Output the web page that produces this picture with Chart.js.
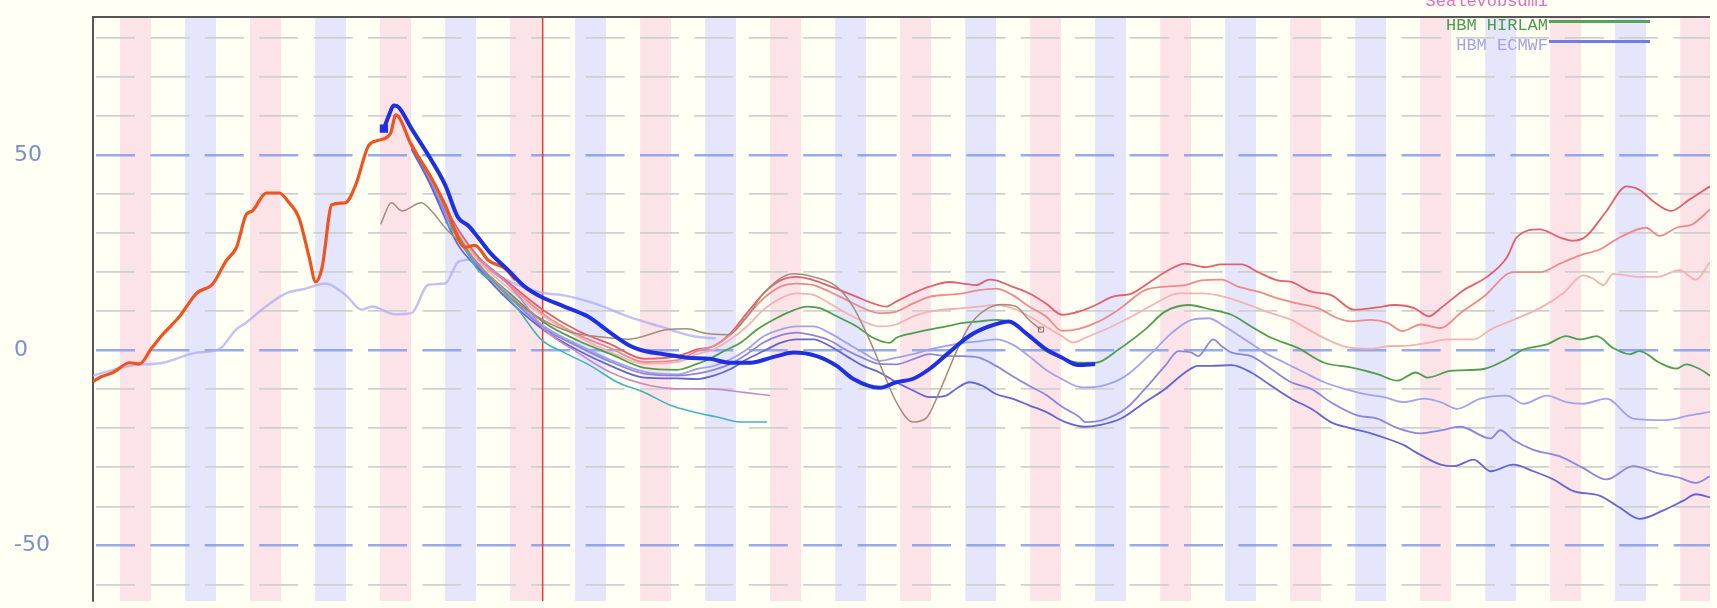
<!doctype html>
<html lang="da">
<head>
<meta charset="utf-8">
<title>Vandstand</title>
<script src="https://cdn.jsdelivr.net/npm/chart.js@4.4.1/dist/chart.umd.min.js"></script>
<style>
  body { margin: 0; background: #fffff3; overflow: hidden; }
  canvas { display: block; }
</style>
</head>
<body>
<canvas id="vandstand" width="1717" height="608"></canvas>
<script>
// hours from the first shaded band, water level in cm: [hour, level]
const observed = [[-5,-8],[-3.5,-6.8],[-1.3,-5.7],[1.8,-3.2],[3.6,-3.5],[5.8,0.5],[7.9,4.1],[11,8.7],[14.1,14.6],[17.1,17],[19.6,23],[21.5,26.4],[23.3,34.8],[24.4,35.7],[27,40.3],[29.4,40.3],[31.2,37.8],[33,34],[34.9,23.9],[36.1,17.5],[37.3,21.3],[39.1,37.3],[41.6,37.8],[43.5,42.4],[45.9,52.5],[47.7,53.8],[49.9,55.5],[50.9,60.3],[53.8,52.5],[57.5,44.1],[60,37.3],[63.7,26.4],[65.5,26.9],[68,23],[71,21],[73,18]];

const forecast = [[48.7,56.8],[49.6,60.1],[50.5,62.7],[51.4,62.3],[53.8,56.8],[56.9,50],[60,42.4],[62.4,34],[64.3,31.9],[66.1,28.9],[68.5,24.7],[71.6,20.6],[74.7,16.3],[77.7,13.7],[82,11.2],[86.3,8.7],[90.6,4.4],[94.2,1.1],[96.8,-0.2],[100.4,-1],[104.7,-1.9],[108.9,-2.2],[112.6,-3.2],[116.3,-3.2],[121.2,-1.5],[124.3,-0.6],[128.6,-1.5],[132.3,-4],[135.3,-7.3],[140.2,-9.6],[143.3,-8.2],[146.4,-7.3],[149.4,-4.8],[153,-0.6],[156.7,3.6],[160.4,6.1],[164.1,7.4],[167.2,4.4],[170.9,0.3],[173.9,-1.9],[176.9,-3.8],[180,-3.5]];

const hindcast = [[-5,-6.5],[1.8,-4],[7.9,-3.2],[14.1,-0.6],[18.3,0.3],[21.4,5.3],[23.2,7],[26.9,11.2],[30.6,14.6],[34.3,15.8],[37.9,17.1],[41.6,14.2],[44.6,10.4],[46.5,11.2],[50.8,9.2],[53.8,9.5],[56.9,16.8],[60,17.1],[62.4,22.6],[64.3,23.2],[66.1,22.2],[72.2,17.5],[78.4,14.6],[81.4,14.2],[87.6,12],[93.7,8.7],[99.7,6.1],[105.9,3.6],[110,3]];

const swing = [[48.1,32.3],[50.1,37.8],[52,35.7],[55.6,37.8],[57.5,35.7],[60,31.4],[63,27.2],[66.1,22.2],[71.6,14],[78.4,7.5],[83.6,4.5],[87.6,3.6],[93.7,2.8],[101.1,5.3],[104.7,5.5],[107.8,4.4],[112.1,4],[115.7,8.5],[118.8,14.6],[124.3,19.6],[128,18.8],[132.3,16.3],[135.3,11.2],[138.3,2.8],[140.9,-5.7],[143.3,-13.3],[146.4,-18.4],[148.8,-17.4],[151.2,-10.8],[154.3,-0.6],[156.7,6.1],[159.8,10.4],[162.9,11.7],[165.4,11.2],[167.7,7.9],[170,5.3]];

const teal = [[60,33],[62.4,28.9],[66.1,20.5],[69.2,17.1],[73.5,10.4],[77.7,2.8],[82,-0.6],[86.9,-4],[91.8,-8.2],[96.8,-10.8],[101.6,-14.1],[105.9,-15.8],[110.2,-17.1],[114.5,-18.4],[119.4,-18.4]];

const mauve = [[66,23.5],[68.5,21],[73.5,14],[78.4,5.3],[84.5,-0.6],[90.6,-5.7],[98,-9.1],[102.9,-9.9],[108.9,-9.9],[115.1,-10.8],[120,-11.6]];

const red1 = [[53.8,53],[56.9,45],[62.4,31],[66.1,24],[71.6,17.5],[78.4,10],[84.5,5],[90.6,1.5],[96.8,-2.2],[102.9,-1.5],[106.5,0.2],[109.6,1.1],[112.7,4.4],[115.7,9.5],[118.8,14.6],[121.9,17.9],[124.9,18.8],[126.8,18.4],[129.8,17.1],[132.9,15.4],[136,13.7],[139,12],[141.5,11.2],[143.3,12.5],[146.4,14.6],[149.4,16.3],[153.1,17.5],[155.6,17.1],[158,16.7],[160.5,18.1],[161.7,17.9],[164.7,16.3],[167.8,14.6],[170.9,12],[173.9,9.1],[177,9.9],[180.1,11.6],[183.1,13.7],[186.8,14.6],[190.5,17.9],[193.5,20.5],[196.6,22.2],[200.3,21.3],[203.3,22],[207,22],[210.1,20],[213.7,17.9],[216.2,17.5],[219.9,15],[223.5,14.2],[227.8,10.4],[232.1,11],[235.2,11.6],[238.9,10.8],[241.6,8.7],[243.8,10.8],[248,15.4],[252.3,18.8],[256,23.8],[257.8,28.9],[262.1,31],[265.8,28.9],[268.3,28.1],[270.7,29.3],[274.4,35.7],[278.1,42],[280.5,41.1],[283,38.2],[286.3,35.7],[289.7,38.6],[293.5,42]];

const red2 = [[53.8,53],[56.9,45],[62.4,30],[66.1,23.5],[71.6,17],[78.4,9],[84.5,4],[90.6,0.5],[96.8,-3],[102.9,-2.5],[106.5,-0.2],[109.6,1.1],[112.7,4],[115.7,8.7],[118.8,13.3],[121.9,16.3],[124.9,17.1],[128,16.7],[131,15],[134.1,12.9],[137.2,10.8],[140.2,9.5],[143.3,9.9],[146.4,12],[149.4,13.7],[152.5,14.2],[155.6,14.6],[158.6,15.4],[161.7,15.8],[164.7,14.2],[167.8,11.2],[170.9,8.7],[173.9,5],[177,5.5],[180.7,7.4],[184.3,10.4],[189.2,15.4],[192.9,16.3],[196.6,16.7],[199.7,17.9],[203.3,18.1],[206.4,16.3],[210.1,15],[213.7,13.3],[217.4,12],[221.1,10.8],[224.8,8.2],[227.2,7.4],[230.9,7.8],[234,7],[236.7,4.9],[240.1,6.6],[243.8,5.7],[247.4,9.5],[251.7,13.7],[257.2,20],[262.1,20],[265.8,22.2],[269.5,24.3],[273.2,25.9],[276.8,28.9],[281.7,31.4],[284.2,29.3],[287.3,31.4],[290.3,32.3],[293.5,36.1]];

const pink3 = [[53.8,52.5],[56.9,45],[62.4,30],[66.1,23],[71.6,16],[78.4,8.5],[84.5,3.5],[90.6,-0.5],[96.8,-3.5],[102.9,-3],[106.5,-1],[109.6,0.2],[112.7,2.8],[115.7,6.1],[118.8,10.4],[121.9,13.3],[124.9,14.6],[128,14.2],[131,12],[134.1,9.5],[137.2,7.4],[140.2,6.1],[143.3,6.6],[146.4,8.7],[149.4,9.9],[155.6,10.8],[158.6,11.2],[161.7,11.6],[164.7,10.8],[167.8,8.7],[170.9,6.1],[173.9,3.6],[176,2],[178.2,3.2],[183.1,6.1],[186.8,8.7],[191.1,12],[195.4,14.6],[199.7,14.6],[203.9,13.7],[207.6,12],[212.5,9.5],[216.2,7.8],[219.9,4.9],[223.5,2.3],[227.2,0.6],[230.9,0.4],[234.6,1.1],[236.4,1.1],[241.3,1.9],[245,2.8],[249.9,2.8],[253,5.3],[257.2,7.8],[262.1,10.8],[266.4,14.6],[270.1,19.2],[271.9,18.4],[273.8,16.7],[275.6,19.6],[280.5,18.8],[283.6,18.8],[287.9,20.5],[290.9,18.1],[293.5,22.6]];

const hirlam = [[53.8,52.5],[56.9,44.5],[62.4,29.5],[66.1,22],[71.6,15],[78.4,7],[84.5,2.5],[90.6,-1],[96.8,-4.5],[102.9,-5],[106.5,-3.5],[108.4,-2.5],[111.5,-0.2],[114.5,1.9],[117.6,5.3],[120.6,7.8],[123.7,9.9],[126.8,11.2],[129.2,10.8],[132.3,8.7],[136,6.1],[139,3.2],[142.1,1.9],[143.3,3.2],[146.4,4.4],[149.4,5.3],[152.5,6.1],[155.6,7],[158.6,7.4],[161.7,7.8],[164.7,7],[167.8,3.6],[170.9,-0.2],[173.9,-2],[177,-3.2],[180.1,-3.2],[184.3,0.2],[189.2,5.3],[192.9,9.9],[197.2,11.6],[201.5,10.4],[205.2,9.1],[208.8,6.1],[212.5,3.2],[217.4,0.6],[222.3,-3.2],[227.2,-4.4],[232.1,-6.1],[235.8,-7.8],[239.2,-5.7],[241.3,-7],[245.6,-5.3],[251.7,-4.8],[256,-2.3],[259.1,0.2],[263.4,1.5],[267,3.6],[269.5,2.8],[272.6,3.6],[275.6,0.6],[278.7,-1],[280.5,-0.2],[284.2,-3.2],[287.3,-4.7],[289.1,-3.6],[291.6,-4.8],[293.5,-6.5]];

const ecmwf = [[53.8,52],[56.9,44.5],[62.4,29],[66.1,22],[71.6,14.5],[78.4,6],[84.5,1.5],[90.6,-2.5],[96.8,-5.5],[102.9,-6.2],[106.5,-4.8],[109.6,-4],[112.7,-2.3],[115.7,0.2],[118.8,3.6],[121.9,5.3],[124.9,6.1],[128,6.1],[131,4.4],[134.1,1.9],[137.2,-0.6],[140.2,-2.7],[143.3,-1.9],[146.4,-1],[149.4,0.2],[152.5,1.1],[155.6,1.9],[158.6,2.3],[161.7,2.8],[164.7,1.5],[167.8,-1.5],[170.9,-5],[174,-7.5],[177.5,-9.5],[181.3,-9.1],[185.6,-6.6],[190.5,-0.6],[194.1,4.4],[197.8,7.8],[200.9,8.2],[203.9,6.1],[207.6,2.8],[211.3,-0.6],[215,-3.2],[218.6,-5.7],[222.3,-8.2],[226,-9.9],[229.7,-11.2],[233.3,-12],[237,-13.3],[240.7,-12.4],[243.8,-13.3],[246.8,-15],[251.1,-12.4],[256,-11.6],[259.1,-13.7],[263.4,-11.6],[267,-13.3],[270.1,-13.7],[274.4,-12.4],[279.3,-17.5],[285.4,-17.9],[289.7,-16.7],[293.5,-15.8]];

const blue1 = [[53.8,52],[56.9,44],[62.4,28.5],[66.1,21.5],[71.6,14],[78.4,5.5],[84.5,1],[90.6,-3],[96.8,-6],[102.9,-6.5],[106.5,-6],[109.6,-5],[112.7,-3.5],[115.7,-1],[118.8,2],[121.9,3.8],[124.9,4.5],[128,3.8],[131,2.5],[134.1,0],[137.2,-2],[140.2,-3.5],[143.3,-3.6],[146.4,-2.3],[149.4,-1],[152.5,-1.5],[155.6,-1.5],[158.6,-1.9],[161.7,-4],[164.7,-6.6],[167.8,-9.1],[170.9,-11.4],[173.9,-14.5],[177,-17],[178.2,-18.4],[181.3,-17.9],[185.6,-15],[189.2,-9.9],[192.9,-4],[195.4,-0.2],[197.8,-0.6],[199,-1.5],[201.8,2.8],[203.3,1.1],[205.2,-0.6],[208.8,-1.5],[212.5,-4.8],[216.2,-8.2],[219.9,-9.9],[223.5,-13.3],[228.4,-16.7],[232.1,-17.5],[235.2,-19.6],[240.1,-21.3],[243.8,-20.5],[247.4,-19.6],[253,-22.6],[254.8,-20.5],[257.2,-23],[260.9,-25.5],[265.8,-27.2],[270.1,-30.2],[274.4,-33.1],[279.3,-29.7],[283.6,-31.4],[287.9,-32.7],[290.9,-34],[293.5,-32.3]];

const blue2 = [[53.8,51.5],[56.9,43.5],[62.4,27],[66.1,21],[71.6,13],[78.4,5],[84.5,0],[90.6,-4],[96.8,-7],[102.9,-7.2],[106.5,-7.4],[109.6,-6.5],[112.7,-4.8],[115.7,-2.3],[118.8,-0.2],[121.9,1.9],[124.9,2.8],[128,2.8],[131,1.1],[134.1,-1.5],[137.2,-4],[140.2,-5.7],[143.3,-8.2],[146.4,-10.3],[149.4,-12],[152.5,-11.6],[154.3,-9.9],[156.8,-8.2],[159.2,-9.1],[161.7,-11.2],[164.7,-12.4],[167.8,-14.1],[170.9,-15.8],[174.5,-18.4],[178.2,-19.6],[180.7,-19.2],[184.8,-17.5],[189.2,-13.3],[192.9,-9.9],[196.6,-5.7],[199,-4],[201.5,-4],[205.2,-3.8],[208.8,-5.7],[212.5,-9.1],[216.2,-12.4],[219.9,-15],[223.5,-18.4],[227.2,-20],[230.9,-21.3],[234.6,-23],[237,-24.3],[238.9,-25.9],[243.8,-29.3],[246.2,-29.7],[249.9,-28],[253,-31],[257.2,-29.3],[260.9,-31],[264.6,-33.1],[268.3,-36.1],[273.2,-37.3],[276.8,-40.3],[280.5,-43.2],[284.8,-41.1],[288.5,-38.6],[290.9,-36.9],[293.5,-37.7]];

const legendNames = ['Sealevobsdmi', 'HBM HIRLAM', 'HBM ECMWF'];

// shaded bands start every 12 h, alternating pink / blue
const bandEvery = 12;
const bandLength = 5.7;
const nowHour = 78;

const toXY = arr => arr.map(([h, v]) => ({x: h, y: v}));

function line(data, color, width, extra) {
  return Object.assign({
    data: toXY(data),
    borderColor: color,
    borderWidth: width,
    pointRadius: 0,
    pointHoverRadius: 0,
    borderJoinStyle: 'round',
    cubicInterpolationMode: 'monotone',
    fill: false
  }, extra || {});
}

const backdrop = {
  id: 'backdrop',
  beforeDraw(chart) {
    const {ctx, chartArea: a, scales: {x}} = chart;
    ctx.save();
    ctx.beginPath();
    ctx.rect(a.left, a.top, a.right - a.left, a.bottom - a.top);
    ctx.clip();
    for (let h = 0, n = 0; h < x.max; h += bandEvery, n++) {
      const x1 = x.getPixelForValue(h);
      const x2 = x.getPixelForValue(h + bandLength);
      ctx.fillStyle = n % 2 ? '#e5e6fb' : '#fce3e8';
      ctx.fillRect(x1, a.top, x2 - x1, a.bottom - a.top);
    }
    ctx.restore();
  },
  beforeDatasetsDraw(chart) {
    const {ctx, chartArea: a, scales: {x}} = chart;
    const px = x.getPixelForValue(nowHour);
    ctx.save();
    ctx.strokeStyle = '#e83a3a';
    ctx.lineWidth = 1.6;
    ctx.beginPath();
    ctx.moveTo(px, a.top);
    ctx.lineTo(px, a.bottom);
    ctx.stroke();
    ctx.restore();
  },
  afterDraw(chart) {
    const {ctx, chartArea: a} = chart;
    ctx.save();
    // frame top
    ctx.strokeStyle = '#565656';
    ctx.lineWidth = 2;
    ctx.beginPath();
    ctx.moveTo(a.left, a.top);
    ctx.lineTo(a.right, a.top);
    ctx.stroke();

    // legend, top right
    const textColors = ['#e56cb8', '#4c9a4c', '#a2a2e6'];
    const lineColors = [null, '#58a458', '#6e7ee6'];
    const rows = [1, 25, 45];
    ctx.font = '17px "Liberation Mono", monospace';
    ctx.textAlign = 'right';
    ctx.textBaseline = 'middle';
    legendNames.forEach((name, i) => {
      ctx.fillStyle = textColors[i];
      ctx.fillText(name, 1548, rows[i]);
      if (lineColors[i]) {
        ctx.strokeStyle = lineColors[i];
        ctx.lineWidth = 3;
        ctx.beginPath();
        ctx.moveTo(1549, rows[i] - 3.5);
        ctx.lineTo(1650, rows[i] - 3.5);
        ctx.stroke();
      }
    });
    ctx.restore();
  }
};

const chart = new Chart(document.getElementById('vandstand'), {
  type: 'line',
  data: {
    datasets: [
      line(forecast, '#1f30e2', 4, {
        pointStyle: 'rect',
        pointRadius: c => c.dataIndex === 0 ? 3 : 0,
        pointBackgroundColor: '#1f30e2',
        pointBorderColor: '#1f30e2'
      }),
      line(observed, '#f0541e', 3.2),
      line(swing, '#a48a7a', 1.5, {
        pointStyle: 'rect',
        pointRadius: c => c.dataIndex === swing.length - 1 ? 3.5 : 0,
        pointBackgroundColor: 'rgba(0,0,0,0)',
        pointBorderColor: '#8a6a55',
        pointBorderWidth: 1
      }),
      line(teal, '#44b4b8', 1.6),
      line(mauve, '#c68ac6', 1.6),
      line(blue2, '#6464d4', 1.8),
      line(blue1, '#8c86dc', 1.8),
      line(ecmwf, '#a2a2ec', 1.8),
      line(hirlam, '#4f9e4f', 1.8),
      line(pink3, '#f5b2b2', 1.8),
      line(red2, '#ee8a8a', 1.8),
      line(red1, '#e2606e', 1.8),
      line(hindcast, 'rgba(172,172,244,0.75)', 2.4)
    ]
  },
  options: {
    responsive: false,
    devicePixelRatio: 1,
    animation: false,
    layout: { padding: { left: 14, top: 17, right: 0, bottom: 0 } },
    plugins: { legend: { display: false }, tooltip: { enabled: false } },
    scales: {
      x: { type: 'linear', min: -5, max: 293.5, display: false },
      y: {
        min: -64.25,
        max: 85.4,
        ticks: {
          stepSize: 10,
          includeBounds: false,
          crossAlign: 'far',
          padding: 0,
          color: '#7a90c8',
          font: { family: 'DejaVu Sans', size: 22 },
          callback: v => (v % 50 === 0 ? String(v) : '')
        },
        grid: {
          drawTicks: false,
          color: c => (c.tick && c.tick.value % 50 === 0 ? 'rgba(125,150,232,0.8)' : '#d0d0d0'),
          lineWidth: c => (c.tick && c.tick.value % 50 === 0 ? 2.6 : 1.7)
        },
        border: { display: true, color: '#565656', width: 2, dash: [39, 15.4], dashOffset: -2 },
        afterFit(s) { s.width = 79; s.paddingTop = 0; s.paddingBottom = 0; }
      }
    }
  },
  plugins: [backdrop]
});
</script>
</body>
</html>
